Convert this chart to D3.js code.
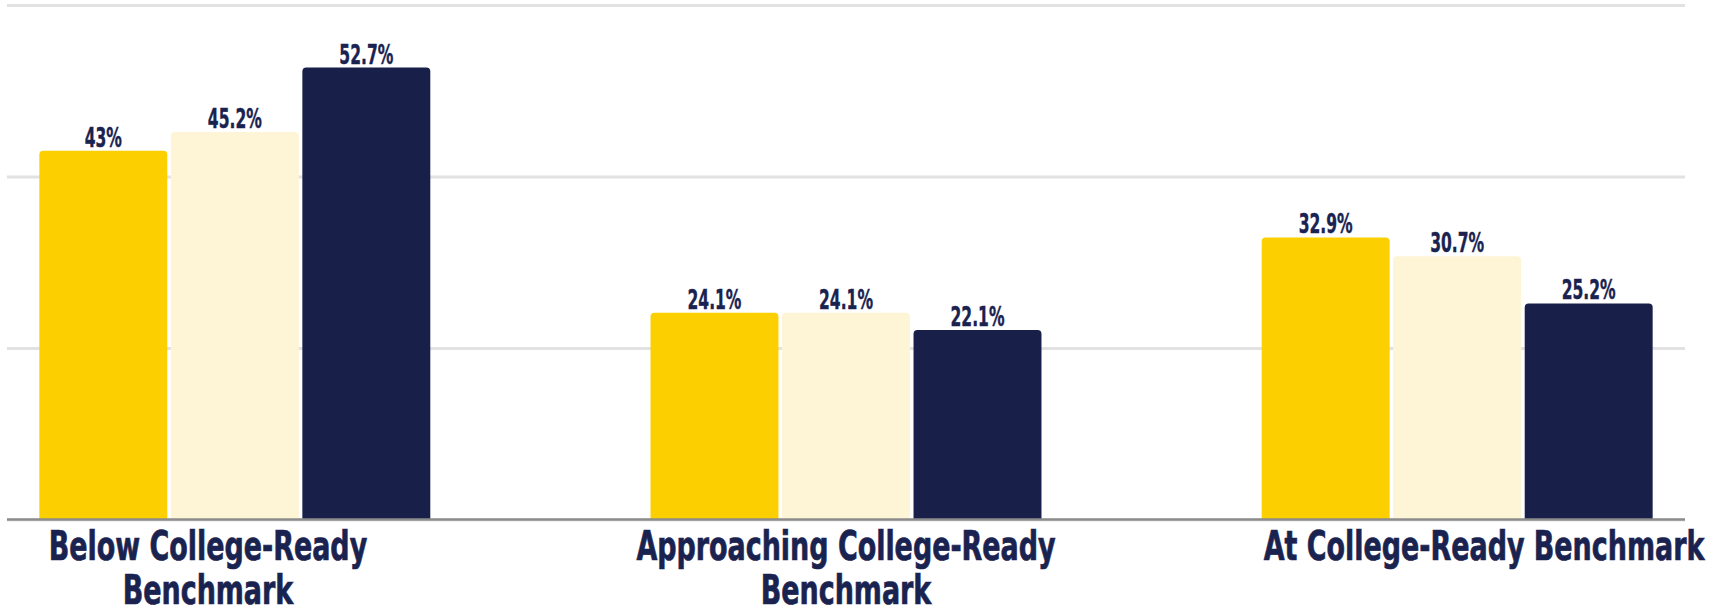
<!DOCTYPE html>
<html>
<head>
<meta charset="utf-8">
<script src="https://cdn.jsdelivr.net/npm/d3@7"></script>
<style>
  html, body { margin: 0; padding: 0; background: #ffffff; }
  svg { display: block; }
</style>
</head>
<body>
<svg id="chart" width="1723" height="609"></svg>
<script>
// ---- data ----
const categories = ["Below College-Ready Benchmark", "Approaching College-Ready Benchmark", "At College-Ready Benchmark"];
const categoryLines = [["Below College-Ready", "Benchmark"], ["Approaching College-Ready", "Benchmark"], ["At College-Ready Benchmark"]];
const seriesNames = ["Series A", "Series B", "Series C"];
const seriesA = [43, 24.1, 32.9];
const seriesB = [45.2, 24.1, 30.7];
const seriesC = [52.7, 22.1, 25.2];
const valueLabels = [["43%", "45.2%", "52.7%"], ["24.1%", "24.1%", "22.1%"], ["32.9%", "30.7%", "25.2%"]];
const gridTicks = [0, 20, 40, 60];
const colors = ["#FCCF00", "#FEF5D6", "#18204A"];

(function () {
// ---- layout ----
const svg = d3.select("#chart");
const mLeft = 7, mRight = 1685, mTop = 5, mBottom = 519.5;
const textColor = "#1A2350";
const fontFam = "'DejaVu Sans Condensed', 'Liberation Sans Narrow', sans-serif";

const x0 = d3.scaleBand().domain(categories).range([mLeft, mRight]).paddingInner(0.3603).paddingOuter(0.0529);
const x1 = d3.scaleBand().domain(seriesNames).range([0, x0.bandwidth()]).paddingInner(0.027).paddingOuter(0);
const xLabel = d3.scalePoint().domain(categories).range([mLeft, mRight]).padding(0.315);
const y = d3.scaleLinear().domain([0, 60]).range([mBottom, mTop]);

// grid
const grid = svg.append("g").attr("transform", `translate(${mLeft},0)`)
  .call(d3.axisLeft(y).tickValues(gridTicks).tickSize(-(mRight - mLeft)).tickFormat(""));
grid.select(".domain").remove();
grid.selectAll(".tick line").attr("stroke", "#E2E2E2").attr("stroke-width", 3);

// data rows
const rows = categories.map((c, i) => ({
  cat: c,
  vals: [seriesA[i], seriesB[i], seriesC[i]].map((v, j) => ({ s: seriesNames[j], v, label: valueLabels[i][j], color: colors[j] }))
}));

function roundTopRect(x, yTop, w, h, r) {
  r = Math.min(r, w / 2, h);
  return `M${x},${yTop + h}V${yTop + r}Q${x},${yTop} ${x + r},${yTop}H${x + w - r}Q${x + w},${yTop} ${x + w},${yTop + r}V${yTop + h}Z`;
}

const groups = svg.append("g").selectAll("g").data(rows).join("g")
  .attr("transform", d => `translate(${x0(d.cat)},0)`);

groups.selectAll("path").data(d => d.vals).join("path")
  .attr("d", d => roundTopRect(x1(d.s), y(d.v), x1.bandwidth(), y(0) - y(d.v), 4))
  .attr("fill", d => d.color);

function fitText(squeeze) {
  return sel => sel.each(function () {
    const len = this.getComputedTextLength();
    d3.select(this).attr("textLength", len * squeeze).attr("lengthAdjust", "spacingAndGlyphs");
  });
}

groups.selectAll("text").data(d => d.vals).join("text")
  .attr("x", d => x1(d.s) + x1.bandwidth() / 2)
  .attr("y", d => y(d.v) - 4)
  .attr("text-anchor", "middle")
  .attr("font-family", fontFam)
  .attr("font-weight", "bold")
  .attr("font-size", 27)
  .attr("fill", textColor)
  .attr("stroke", textColor).attr("stroke-width", 0.4)
  .text(d => d.label)
  .call(fitText(0.64));

// baseline
svg.append("line")
  .attr("x1", mLeft).attr("x2", mRight)
  .attr("y1", y(0)).attr("y2", y(0))
  .attr("stroke", "#8C8C8C").attr("stroke-width", 2.5);

// category labels
const catG = svg.append("g");
categories.forEach((c, i) => {
  categoryLines[i].forEach((line, k) => {
    catG.append("text")
      .attr("x", xLabel(c))
      .attr("y", 560 + k * 44)
      .attr("text-anchor", "middle")
      .attr("font-family", fontFam)
      .attr("font-weight", "bold")
      .attr("font-size", 41)
      .attr("fill", textColor)
      .attr("stroke", textColor).attr("stroke-width", 0.7)
      .text(line)
      .call(fitText(0.73));
  });
});
})();
</script>
</body>
</html>
